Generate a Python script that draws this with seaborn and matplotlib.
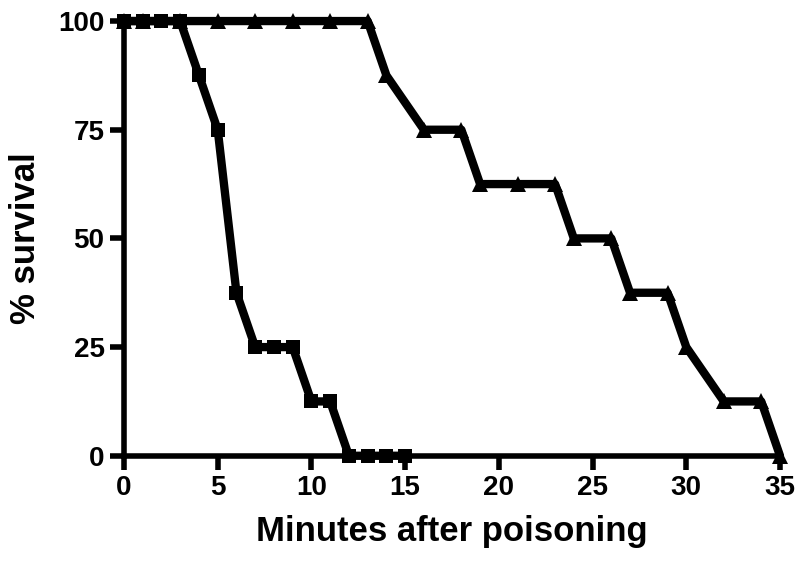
import matplotlib
matplotlib.use("Agg")
import matplotlib.pyplot as plt
import seaborn as sns
import pandas as pd

# survival curves (minutes after poisoning vs % survival)
sq_minutes = [0, 1, 2, 3, 4, 5, 6, 7, 8, 9, 10, 11, 12, 13, 14, 15]
sq_survival = [100, 100, 100, 100, 87.5, 75, 37.5, 25, 25, 25, 12.5, 12.5, 0, 0, 0, 0]

tri_minutes = [0, 1, 3, 5, 7, 9, 11, 13, 14, 16, 18, 19, 21, 23, 24, 26, 27, 29, 30, 32, 34, 35]
tri_survival = [100, 100, 100, 100, 100, 100, 100, 100, 87.5, 75, 75, 62.5, 62.5, 62.5,
                50, 50, 37.5, 37.5, 25, 12.5, 12.5, 0]

x_ticks = [0, 5, 10, 15, 20, 25, 30, 35]
y_ticks = [0, 25, 50, 75, 100]

sns.set_style("ticks")
plt.rcParams['font.family'] = ['Liberation Sans', 'DejaVu Sans']
plt.rcParams['font.weight'] = 'bold'
plt.rcParams['text.color'] = 'black'
plt.rcParams['axes.labelcolor'] = 'black'
plt.rcParams['xtick.color'] = 'black'
plt.rcParams['ytick.color'] = 'black'

df_sq = pd.DataFrame({'minutes': sq_minutes, 'survival': sq_survival})
df_tri = pd.DataFrame({'minutes': tri_minutes, 'survival': tri_survival})

fig, ax = plt.subplots(figsize=(8, 5.69), dpi=100)
fig.subplots_adjust(left=0.155, right=0.975, bottom=0.199, top=0.963)

sns.lineplot(data=df_tri, x='minutes', y='survival', ax=ax, color='black', linewidth=6,
             marker='^', markersize=12, markeredgewidth=0, clip_on=False)
sns.lineplot(data=df_sq, x='minutes', y='survival', ax=ax, color='black', linewidth=6,
             marker='s', markersize=10, markeredgewidth=0, clip_on=False)

ax.set_xlim(0, 35)
ax.set_ylim(0, 100)
ax.set_xticks(x_ticks)
ax.set_yticks(y_ticks)
ax.tick_params(axis='both', width=4, length=10, labelsize=20, colors='black', pad=4)
for lab in ax.get_xticklabels() + ax.get_yticklabels():
    lab.set_fontweight('bold')

sns.despine(ax=ax)
for s in ['left', 'bottom']:
    ax.spines[s].set_linewidth(4)
    ax.spines[s].set_color('black')

ax.set_xlabel('Minutes after poisoning', fontsize=25, fontweight='bold', labelpad=10, color='black')
ax.set_ylabel('% survival', fontsize=25, fontweight='bold', labelpad=12, color='black')

fig.savefig('out.png', dpi=100)
